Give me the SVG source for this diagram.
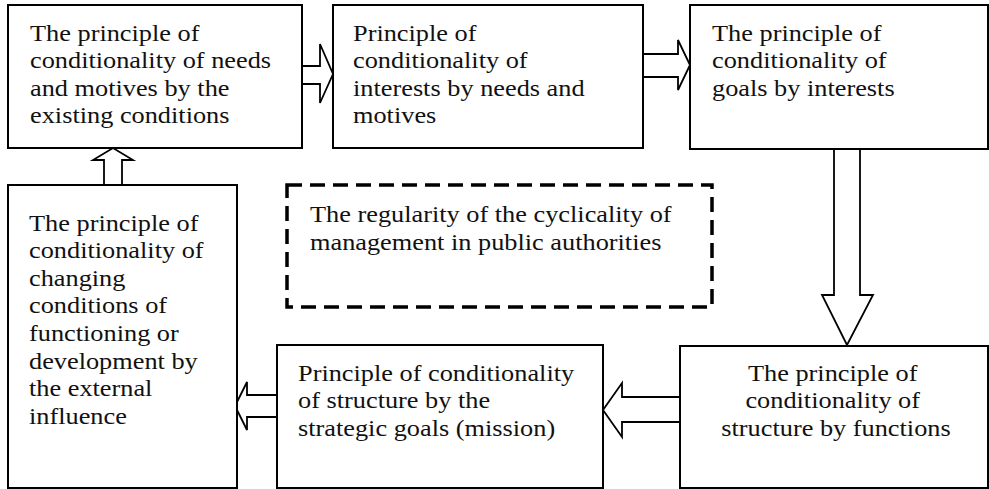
<svg xmlns="http://www.w3.org/2000/svg" width="989" height="489" viewBox="0 0 989 489">
  <style>
    .box { fill: #ffffff; stroke: #000000; stroke-width: 2; }
    .dash { fill: none; stroke: #000000; stroke-width: 3.5; stroke-dasharray: 15 8; }
    .arrow { fill: #ffffff; stroke: #000000; stroke-width: 1.8; stroke-linejoin: miter; }
    .label { font-family: "Liberation Serif", "Times New Roman", serif; font-size: 23.5px; fill: #111111; }
    .mid { text-anchor: middle; }
  </style>
  <rect width="989" height="489" fill="#ffffff"/>

  <!-- block arrows between the principles -->
  <g id="connectors">
    <polygon class="arrow" points="302,66 320,66 320,44 333,74 320,103 320,84 302,84"/>
    <polygon class="arrow" points="643,54 678,54 678,40 690,65 678,90 678,77 643,77"/>
    <polygon class="arrow" points="834,149 860,149 860,295 873,295 847,345 822,295 834,295"/>
    <polygon class="arrow" points="681,397 622,397 622,383 603,410 622,437 622,422 681,422"/>
    <polygon class="arrow" points="277,395 247,395 247,382 235,406 247,430 247,417 277,417"/>
    <polygon class="arrow" points="104,185 104,160 93,160 113,148 133,160 122,160 122,185"/>
  </g>

  <g id="needs-motives">
    <rect class="box" x="8" y="5" width="294" height="143"/>
    <text class="label" transform="translate(30,40.5) scale(1.12,1)">
      <tspan x="0" dy="0">The principle of</tspan>
      <tspan x="0" dy="27.6">conditionality of needs</tspan>
      <tspan x="0" dy="27.6">and motives by the</tspan>
      <tspan x="0" dy="27.6">existing conditions</tspan>
    </text>
  </g>

  <g id="interests">
    <rect class="box" x="333" y="5" width="310" height="143"/>
    <text class="label" transform="translate(353,40.5) scale(1.12,1)">
      <tspan x="0" dy="0">Principle of</tspan>
      <tspan x="0" dy="27.6">conditionality of</tspan>
      <tspan x="0" dy="27.6">interests by needs and</tspan>
      <tspan x="0" dy="27.6">motives</tspan>
    </text>
  </g>

  <g id="goals">
    <rect class="box" x="690" y="5" width="298" height="144"/>
    <text class="label" transform="translate(712,40.5) scale(1.12,1)">
      <tspan x="0" dy="0">The principle of</tspan>
      <tspan x="0" dy="27.6">conditionality of</tspan>
      <tspan x="0" dy="27.6">goals by interests</tspan>
    </text>
  </g>

  <g id="structure-functions">
    <rect class="box" x="680" y="346" width="308" height="142"/>
    <text class="label mid" transform="translate(836,380.5) scale(1.12,1)">
      <tspan x="0" dy="0">The principle of</tspan>
      <tspan x="0" dy="27.6">conditionality of</tspan>
      <tspan x="0" dy="27.6">structure by functions</tspan>
    </text>
  </g>

  <g id="structure-goals">
    <rect class="box" x="277" y="345" width="326" height="143"/>
    <text class="label" transform="translate(298,380.5) scale(1.12,1)">
      <tspan x="0" dy="0">Principle of conditionality</tspan>
      <tspan x="0" dy="27.6">of structure by the</tspan>
      <tspan x="0" dy="27.6">strategic goals (mission)</tspan>
    </text>
  </g>

  <g id="external-influence">
    <rect class="box" x="8" y="185" width="229" height="303"/>
    <text class="label" transform="translate(29,230.7) scale(1.12,1)">
      <tspan x="0" dy="0">The principle of</tspan>
      <tspan x="0" dy="27.6">conditionality of</tspan>
      <tspan x="0" dy="27.6">changing</tspan>
      <tspan x="0" dy="27.6">conditions of</tspan>
      <tspan x="0" dy="27.6">functioning or</tspan>
      <tspan x="0" dy="27.6">development by</tspan>
      <tspan x="0" dy="27.6">the external</tspan>
      <tspan x="0" dy="27.6">influence</tspan>
    </text>
  </g>

  <g id="cyclicality">
    <rect class="dash" x="287" y="185" width="425" height="122"/>
    <text class="label" transform="translate(310,222) scale(1.12,1)">
      <tspan x="0" dy="0">The regularity of the cyclicality of</tspan>
      <tspan x="0" dy="27.6">management in public authorities</tspan>
    </text>
  </g>
</svg>
